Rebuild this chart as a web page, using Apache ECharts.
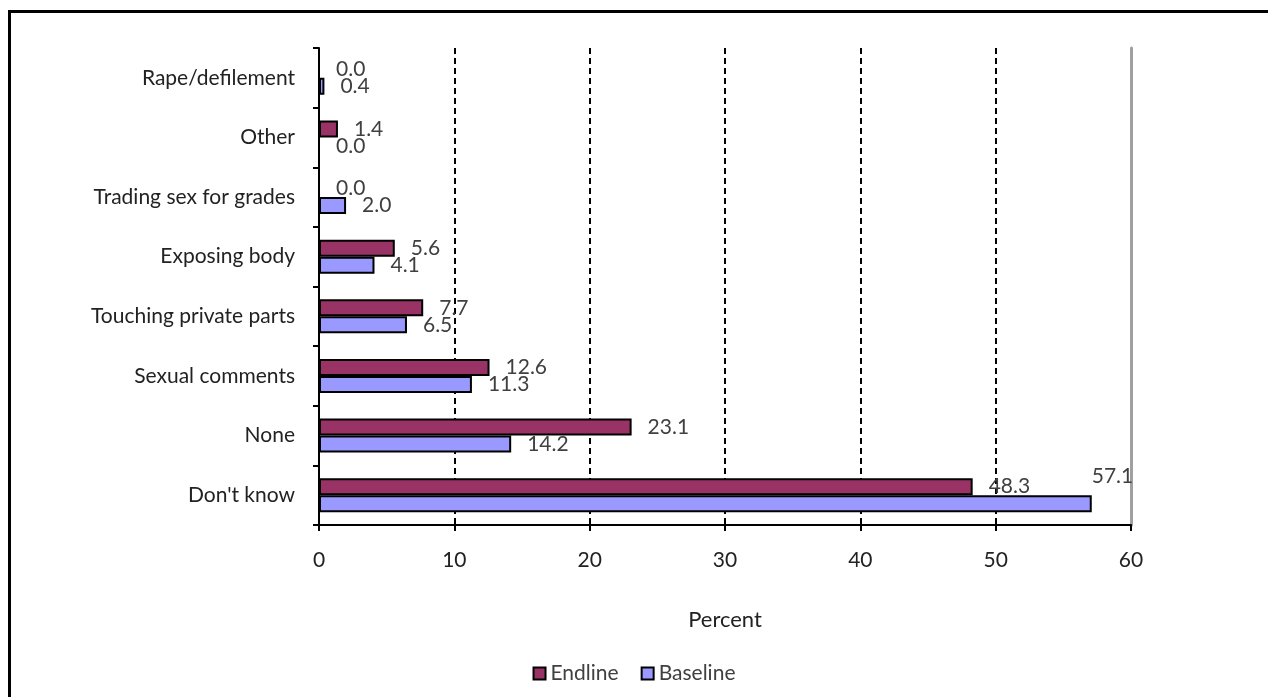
<!DOCTYPE html>
<html>
<head>
<meta charset="utf-8">
<script src="https://cdn.jsdelivr.net/npm/echarts@6/dist/echarts.min.js"></script>
<style>
  html, body { margin:0; padding:0; background:#fff; }
  #main { width:1268px; height:697px; position:absolute; left:0; top:0; }
  #frame { position:absolute; left:8px; top:10px; width:1300px; height:720px;
           border-left:3px solid #000; border-top:3px solid #000; }
</style>
</head>
<body>
<div id="frame"></div>
<div id="main"></div>
<script>
'use strict'
// categories, bottom to top
var categories = ["Don't know", 'None', 'Sexual comments', 'Touching private parts',
  'Exposing body', 'Trading sex for grades', 'Other', 'Rape/defilement']
var endline = [48.3, 23.1, 12.6, 7.7, 5.6, 0.0, 1.4, 0.0]
var baseline = [57.1, 14.2, 11.3, 6.5, 4.1, 2.0, 0.0, 0.4]
var xTicks = [0, 10, 20, 30, 40, 50, 60]

var font = 'Lato, "Open Sans", sans-serif'
var grey = '#404040'

var myChart = echarts.init(document.getElementById('main'))

function labelFor(data, idx) {
  return data.map(function (v, i) {
    var item = { value: v }
    // excel pushed the last label above the bar at the plot edge
    if (idx === 1 && v > 56) {
      item.label = { position: 'right', offset: [-16, -27] }
    }
    return item
  })
}

var option = {
  animation: false,
  textStyle: { fontFamily: font },
  grid: { left: 319, right: 137, top: 48, bottom: 172 },
  legend: {
    data: ['Endline', 'Baseline'],
    bottom: 8,
    left: 'center',
    icon: 'rect',
    itemWidth: 12,
    itemHeight: 12,
    itemGap: 22,
    textStyle: { fontSize: 21, color: grey, fontFamily: font }
  },
  xAxis: {
    type: 'value',
    min: xTicks[0],
    max: xTicks[xTicks.length - 1],
    interval: 10,
    name: 'Percent',
    nameLocation: 'middle',
    nameGap: 84,
    nameTextStyle: { fontSize: 22, color: '#222', fontFamily: font },
    axisLine: { show: true, lineStyle: { color: '#000', width: 2 } },
    axisTick: { show: true, length: 6, lineStyle: { color: '#000', width: 2 } },
    axisLabel: { fontSize: 21, color: '#222', margin: 25 },
    splitLine: {
      show: true,
      showMinLine: false,
      showMaxLine: false,
      lineStyle: { color: '#000', width: 2, type: [6, 4] }
    }
  },
  yAxis: [
    {
      type: 'category',
      data: categories,
      axisLine: { show: true, lineStyle: { color: '#000', width: 2 } },
      axisTick: { show: true, length: 6, lineStyle: { color: '#000', width: 2 } },
      axisLabel: { fontSize: 21, color: '#222', margin: 24 }
    },
    {
      type: 'category',
      data: categories,
      position: 'right',
      axisLine: { show: true, lineStyle: { color: '#a0a0a0', width: 3 } },
      axisTick: { show: false },
      axisLabel: { show: false }
    }
  ],
  series: [
    {
      name: 'Endline',
      type: 'bar',
      data: labelFor(endline, 0),
      barWidth: 17,
      barGap: '0%',
      itemStyle: { color: '#993366', borderColor: '#000', borderWidth: 2 },
      label: { show: true, position: 'right', distance: 16, fontSize: 21, color: grey,
        formatter: function (p) { return p.value.toFixed(1) } }
    },
    {
      name: 'Baseline',
      type: 'bar',
      data: labelFor(baseline, 1),
      barWidth: 17,
      barGap: '0%',
      itemStyle: { color: '#9999FF', borderColor: '#000', borderWidth: 2 },
      label: { show: true, position: 'right', distance: 16, fontSize: 21, color: grey,
        formatter: function (p) { return p.value.toFixed(1) } }
    }
  ]
}
myChart.setOption(option)
</script>
</body>
</html>
